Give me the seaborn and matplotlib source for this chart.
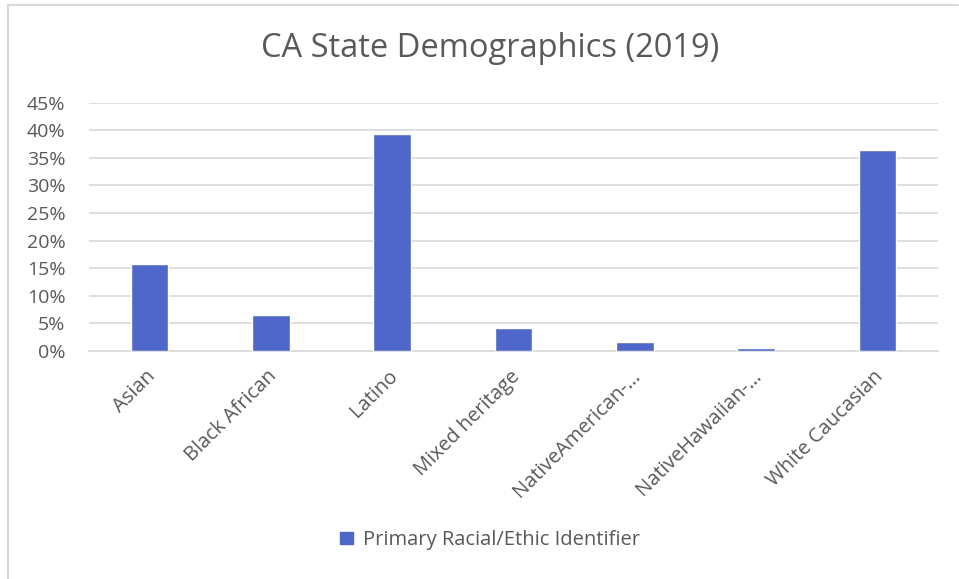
import matplotlib
matplotlib.use("Agg")
import matplotlib.pyplot as plt
import seaborn as sns
import pandas as pd
from matplotlib.lines import Line2D
from matplotlib.patches import Patch
from matplotlib.ticker import PercentFormatter
from matplotlib.transforms import ScaledTranslation

categories = ["Asian", "Black African", "Latino", "Mixed heritage",
              "NativeAmerican-…", "NativeHawaiian-…", "White Caucasian"]
values = [0.157, 0.066, 0.394, 0.041, 0.016, 0.005, 0.365]
yticks = [0, 0.05, 0.10, 0.15, 0.20, 0.25, 0.30, 0.35, 0.40, 0.45]
title = "CA State Demographics (2019)"
series_name = "Primary Racial/Ethic Identifier"

sns.set_style("white")
plt.rcParams['font.family'] = ['Open Sans', 'DejaVu Sans']

df = pd.DataFrame({"cat": categories, "val": values})
W, H = 959, 579
fig = plt.figure(figsize=(W / 100, H / 100), dpi=100)
ax = fig.add_axes([89 / W, 1 - 351 / H, (938 - 89) / W, (351 - 102.7) / H])

bar_color = "#4F67C8"
sns.barplot(data=df, x="cat", y="val", color=bar_color, width=0.31,
            saturation=1, ax=ax, zorder=3)
ax.set_ylim(0, 0.45)
ax.set_yticks(yticks)
ax.yaxis.set_major_formatter(PercentFormatter(1.0, decimals=0))
ax.grid(axis="y", color="#D9D9D9", linewidth=1.2, zorder=0)
ax.set_axisbelow(True)
for s in ["top", "right", "left"]:
    ax.spines[s].set_visible(False)
ax.spines["bottom"].set_color("#D9D9D9")
ax.spines["bottom"].set_linewidth(1.2)
ax.set_xlabel("")
ax.set_ylabel("")
ax.tick_params(axis="both", length=0, colors="#595959")
ax.tick_params(axis="y", pad=17, labelsize=14)
ax.tick_params(axis="x", pad=11, labelsize=14.5)
shift = ScaledTranslation(-4 / 100, 0, fig.dpi_scale_trans)
for lbl in ax.get_xticklabels():
    lbl.set_rotation(45)
    lbl.set_ha("right")
    lbl.set_rotation_mode("anchor")
    lbl.set_transform(lbl.get_transform() + shift)

fig.text(490 / W, 1 - 57 / H, title, ha="center", va="baseline",
         fontsize=23.5, color="#595959")

handles = [Patch(facecolor=bar_color, edgecolor=bar_color)]
fig.legend(handles, [series_name], loc="center", bbox_to_anchor=(490 / W, 1 - 540 / H),
           frameon=False, fontsize=14.5, labelcolor="#595959",
           handlelength=0.6, handleheight=0.6, handletextpad=0.5)

# chart-area border (top and left edges visible)
fig.add_artist(Line2D([8 / W, 958 / W], [1 - 4.5 / H, 1 - 4.5 / H],
                      transform=fig.transFigure, color="#D9D9D9", linewidth=1.5))
fig.add_artist(Line2D([8 / W, 8 / W], [0, 1 - 4.5 / H],
                      transform=fig.transFigure, color="#D9D9D9", linewidth=1.5))

fig.savefig("out.png", dpi=100, facecolor="white")
